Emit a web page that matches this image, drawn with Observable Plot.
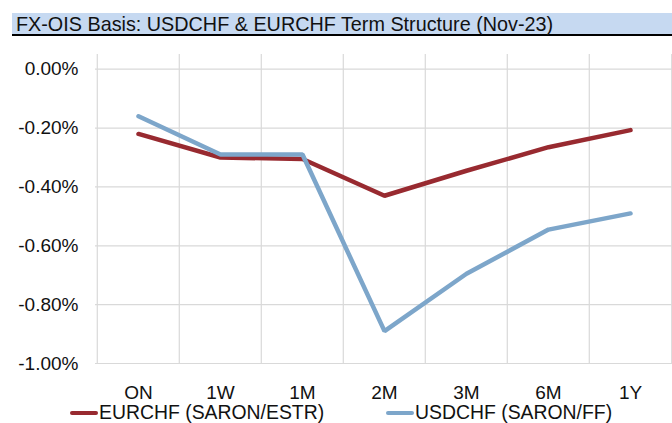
<!DOCTYPE html>
<html>
<head>
<meta charset="utf-8">
<script src="https://cdn.jsdelivr.net/npm/d3@7"></script>
<script src="https://cdn.jsdelivr.net/npm/@observablehq/plot@0.6"></script>
<style>
  html, body { margin: 0; padding: 0; background: #fff; }
  #wrap { position: relative; width: 672px; height: 423px; overflow: hidden; font-family: "Liberation Sans", Arial, sans-serif; }
  #title { position: absolute; left: 12px; top: 13px; width: 660px; height: 23px; background: #C6D9F1; border-bottom: 2px solid #000; font-size: 19.8px; line-height: 23px; color: #111; padding-left: 4px; box-sizing: border-box; white-space: nowrap; z-index: 2; }
  #chart { position: absolute; left: 0; top: 40px; z-index: 1; }
  #legend { position: absolute; top: 401px; left: 0; width: 672px; height: 22px; font-size: 19.4px; color: #111; z-index: 2; }
  .item { position: absolute; top: 0; line-height: 22px; white-space: nowrap; }
  .sw { display: inline-block; width: 28px; height: 4px; vertical-align: middle; margin-right: 1px; position: relative; top: -1px; border-radius: 2px; }
</style>
</head>
<body>
<div id="wrap">
  <div id="title">FX-OIS Basis: USDCHF &amp; EURCHF Term Structure (Nov-23)</div>
  <div id="chart"></div>
  <div id="legend"></div>
</div>
<script>
const tenors = ["ON", "1W", "1M", "2M", "3M", "6M", "1Y"];
const eurchf = [-0.22, -0.30, -0.305, -0.43, -0.345, -0.265, -0.207];
const usdchf = [-0.16, -0.29, -0.29, -0.89, -0.695, -0.545, -0.49];
const yTicks = [0, -0.2, -0.4, -0.6, -0.8, -1.0];
const seriesNames = ["EURCHF (SARON/ESTR)", "USDCHF (SARON/FF)"];
const colors = ["#982A30", "#7DA6CA"];

const W = 672, H = 375, mL = 95, mR = 0, mT = 14, mB = 52;
const step = (W - mL - mR) / tenors.length;

const eurData = tenors.map((t, i) => ({tenor: t, v: eurchf[i]}));
const usdData = tenors.map((t, i) => ({tenor: t, v: usdchf[i]}));

const chart = Plot.plot({
  width: W, height: H,
  marginLeft: mL, marginRight: mR, marginTop: mT, marginBottom: mB,
  style: {fontFamily: '"Liberation Sans", Arial, sans-serif', fontSize: "19px", color: "#111", background: "transparent"},
  x: {type: "point", domain: tenors, padding: 0.5, label: null, tickSize: 0, tickPadding: 22},
  y: {domain: [-1.0, 0.05], ticks: yTicks, tickFormat: d => d.toFixed(2) + "%", label: null, tickSize: 0, tickPadding: 17},
  marks: [
    Plot.ruleY(yTicks, {stroke: "#D9D9D9", strokeWidth: 1.2}),
    Plot.ruleX(tenors, {stroke: "#D9D9D9", strokeWidth: 1.2, dx: -step / 2}),
    Plot.ruleX(tenors.slice(-1), {stroke: "#D9D9D9", strokeWidth: 1.2, dx: step / 2}),
    Plot.line(eurData, {x: "tenor", y: "v", stroke: colors[0], strokeWidth: 4.5, strokeLinejoin: "miter", strokeLinecap: "round"}),
    Plot.line(usdData, {x: "tenor", y: "v", stroke: colors[1], strokeWidth: 4.5, strokeLinejoin: "miter", strokeLinecap: "round"})
  ]
});
document.getElementById("chart").appendChild(chart);

const legend = document.getElementById("legend");
const lefts = [70, 386];
seriesNames.forEach((n, i) => {
  const it = document.createElement("div");
  it.className = "item";
  it.style.left = lefts[i] + "px";
  it.innerHTML = `<span class="sw" style="background:${colors[i]}"></span>${n}`;
  legend.appendChild(it);
});
</script>
</body>
</html>
